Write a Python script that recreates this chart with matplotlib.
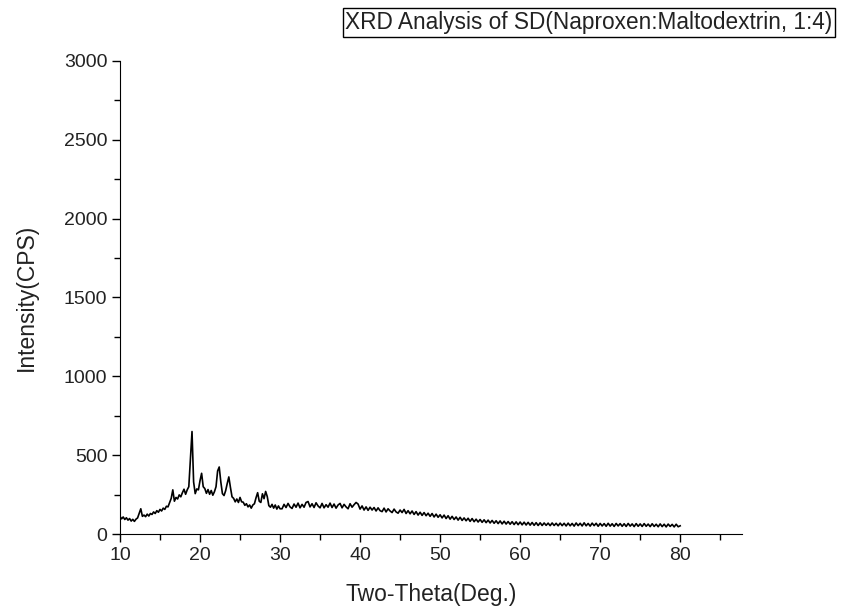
import matplotlib
matplotlib.use('Agg')
import matplotlib.pyplot as plt
from matplotlib.ticker import MultipleLocator
import numpy as np

# Two-theta grid: 0.2 deg steps through the peak region, 0.25 deg after
theta_peaks = np.round(np.arange(10.0, 30.01, 0.2), 2)
theta_tail = np.round(np.arange(30.25, 80.01, 0.25), 2)

# Intensity (CPS), 10-30 deg
cps_peaks = [112, 96, 108, 92, 103, 88, 98, 82, 93, 80,
             94, 102, 132, 160, 112, 120, 110, 126, 114, 130,
             124, 140, 130, 148, 138, 156, 146, 164, 156, 176,
             172, 200, 226, 280, 208, 232, 222, 248, 236, 262,
             284, 252, 280, 300, 470, 650, 330, 256, 286, 280,
             338, 385, 300, 288, 258, 282, 252, 276, 246, 268,
             300, 400, 425, 330, 256, 244, 274, 320, 362, 296,
             236, 226, 204, 222, 200, 232, 204, 202, 182, 192,
             172, 184, 164, 184, 192, 230, 262, 208, 200, 255,
             224, 270, 238, 180, 170, 188, 164, 184, 158, 178,
             160]

# Intensity (CPS), 30.25-80 deg
cps_tail = [160, 188, 168, 194, 172, 162, 190, 170, 196, 166, 188, 170, 200, 206, 172, 192, 168, 198, 178, 166,
            194, 166, 186, 170, 196, 168, 190, 164, 184, 194, 166, 188, 172, 160, 192, 170, 186, 200, 190, 158,
            178, 152, 172, 150, 170, 152, 168, 146, 166, 148, 142, 164, 140, 160, 146, 136, 158, 140, 132, 152,
            136, 156, 130, 148, 128, 146, 124, 142, 120, 138, 118, 136, 116, 132, 112, 130, 108, 126, 106, 122,
            102, 120, 98, 116, 94, 112, 92, 108, 88, 106, 86, 102, 84, 100, 80, 98, 78, 94, 76, 92,
            74, 90, 72, 88, 70, 86, 68, 84, 66, 83, 64, 81, 63, 79, 62, 78, 60, 77, 59, 76,
            58, 75, 57, 74, 56, 73, 55, 72, 54, 71, 54, 70, 55, 69, 53, 70, 54, 68, 52, 69,
            53, 68, 51, 69, 52, 67, 50, 70, 53, 68, 51, 71, 52, 67, 50, 69, 53, 68, 49, 67,
            51, 66, 49, 68, 50, 65, 48, 67, 51, 66, 49, 65, 48, 67, 50, 64, 47, 66, 49, 64,
            48, 66, 49, 63, 47, 65, 48, 62, 46, 64, 47, 62, 45, 63, 48, 61, 45, 62, 46, 52]

theta = np.concatenate([theta_peaks, theta_tail])
cps = np.concatenate([cps_peaks, cps_tail])

plt.rcParams['font.family'] = ['Liberation Sans', 'DejaVu Sans']
text_col = '#222222'

fig = plt.figure(figsize=(8.42, 6.08), dpi=100)
ax = fig.add_axes([0.1425, 0.1217, 0.7385, 0.778])

ax.plot(theta, cps, color='black', linewidth=1.2)

ax.set_xlim(10, 87.7)
ax.set_ylim(0, 3000)
ax.xaxis.set_major_locator(MultipleLocator(10))
ax.xaxis.set_minor_locator(MultipleLocator(5))
ax.yaxis.set_major_locator(MultipleLocator(500))
ax.yaxis.set_minor_locator(MultipleLocator(250))
ax.set_xticks(np.arange(10, 81, 10))
ax.tick_params(which='major', direction='out', length=6, width=1,
               labelsize=14, labelcolor=text_col, pad=3)
ax.tick_params(which='minor', direction='out', length=4, width=1)

for side in ['top', 'right']:
    ax.spines[side].set_visible(False)

ax.set_xlabel('Two-Theta(Deg.)', fontsize=16.5, color=text_col, labelpad=14)
ax.set_ylabel('Intensity(CPS)', fontsize=16.5, color=text_col, labelpad=19)

fig.text(0.989, 0.963, 'XRD Analysis of SD(Naproxen:Maltodextrin, 1:4)',
         ha='right', va='center', fontsize=16.3, color=text_col,
         bbox=dict(boxstyle='square,pad=0.12', facecolor='white',
                   edgecolor='black', linewidth=1))

fig.savefig('out.png', dpi=100)
